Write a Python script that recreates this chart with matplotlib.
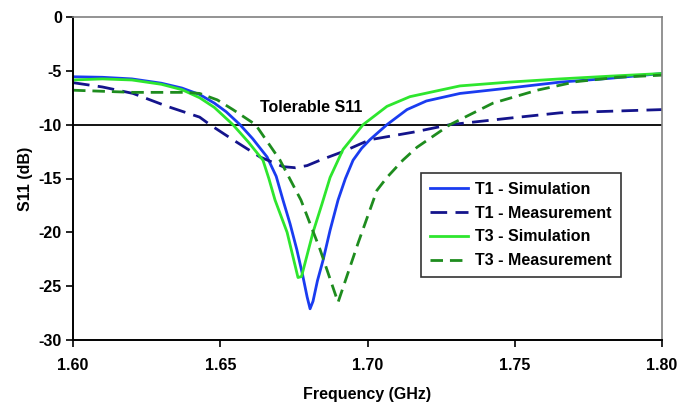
import matplotlib
matplotlib.use("Agg")
import matplotlib.pyplot as plt

plt.rcParams['font.family'] = ['Liberation Sans', 'DejaVu Sans']
plt.rcParams['font.weight'] = 'bold'
plt.rcParams['axes.unicode_minus'] = False

# T1 - Simulation
t1_sim_f = [1.600, 1.610, 1.620, 1.630, 1.637, 1.643, 1.648, 1.652, 1.6567, 1.661,
            1.6659, 1.669, 1.6713, 1.6737, 1.676, 1.678, 1.6795, 1.6805, 1.6815, 1.683,
            1.6849, 1.6873, 1.690, 1.6925, 1.6951, 1.698, 1.7008, 1.7066, 1.7134, 1.720,
            1.7314, 1.748, 1.7654, 1.782, 1.800]
t1_sim_db = [-5.55, -5.6, -5.75, -6.15, -6.6, -7.2, -8.0, -8.8, -10.0, -11.3,
             -13.0, -14.8, -17.0, -19.2, -21.6, -24.0, -26.0, -27.1, -26.4, -24.5,
             -22.6, -19.8, -17.0, -15.0, -13.3, -12.2, -11.4, -10.0, -8.6, -7.8,
             -7.1, -6.6, -6.05, -5.7, -5.25]

# T1 - Measurement
t1_meas_f = [1.600, 1.610, 1.6204, 1.632, 1.643, 1.6465, 1.6543, 1.6635, 1.6713, 1.6755,
             1.6795, 1.6839, 1.6917, 1.7008, 1.7155, 1.728, 1.748, 1.7654, 1.800]
t1_meas_db = [-6.1, -6.5, -7.1, -8.3, -9.3, -10.0, -11.4, -13.0, -13.9, -14.0,
              -13.8, -13.3, -12.5, -11.4, -10.7, -10.0, -9.4, -8.9, -8.6]

# T3 - Simulation
t3_sim_f = [1.600, 1.610, 1.620, 1.630, 1.637, 1.643, 1.648, 1.6543, 1.6595, 1.6645,
            1.6665, 1.6686, 1.6727, 1.6764, 1.6776, 1.6815, 1.6845, 1.6873, 1.6917, 1.6985,
            1.7066, 1.7144, 1.7314, 1.748, 1.7654, 1.782, 1.800]
t3_sim_db = [-5.85, -5.75, -5.85, -6.25, -6.75, -7.5, -8.4, -10.0, -11.6, -13.3,
             -15.0, -17.0, -20.0, -24.2, -24.1, -20.0, -17.4, -14.9, -12.3, -10.0,
             -8.3, -7.4, -6.4, -6.05, -5.75, -5.5, -5.25]

# T3 - Measurement
t3_meas_f = [1.600, 1.6204, 1.6387, 1.643, 1.649, 1.6543, 1.662, 1.6703, 1.6774, 1.6839,
             1.690, 1.6968, 1.7032, 1.7066, 1.712, 1.7168, 1.728, 1.7426, 1.7576, 1.771,
             1.785, 1.800]
t3_meas_db = [-6.8, -7.0, -7.0, -7.1, -7.7, -8.6, -10.0, -13.3, -17.0, -21.6,
              -26.5, -21.0, -16.1, -14.9, -13.3, -12.1, -10.0, -8.0, -6.8, -6.0,
              -5.6, -5.4]

tolerable = -10

fig = plt.figure(figsize=(6.78, 4.09), dpi=100)
ax = fig.add_axes([73 / 678, 69 / 409, 589 / 678, 323 / 409])

ax.axhline(tolerable, color='black', lw=1.3, zorder=1)
ax.plot(t1_sim_f, t1_sim_db, color='#1a3cf0', lw=2, label='T1 - Simulation')
ax.plot(t1_meas_f, t1_meas_db, color='#14148c', lw=2, dashes=(6, 3),
        label='T1 - Measurement')
ax.plot(t3_sim_f, t3_sim_db, color='#2ee62e', lw=2, label='T3 - Simulation')
ax.plot(t3_meas_f, t3_meas_db, color='#1e8c1e', lw=2, dashes=(4.5, 2.5),
        label='T3 - Measurement')

ax.text(1.6808, -8.45, 'Tolerable S11', ha='center', va='center',
        fontsize=11.5, fontweight='bold')

ax.set_xlim(1.60, 1.80)
ax.set_ylim(-30, 0)
ax.set_xticks([1.60, 1.65, 1.70, 1.75, 1.80])
ax.set_xticklabels(['1.60', '1.65', '1.70', '1.75', '1.80'])
ax.set_yticks(range(-30, 1, 5))
ax.tick_params(direction='out', length=5, width=1.2, labelsize=11.5)
ax.tick_params(axis='x', pad=8)
ax.tick_params(axis='y', pad=3)
for lab in ax.get_xticklabels() + ax.get_yticklabels():
    lab.set_fontweight('bold')

for s in ['top', 'right']:
    ax.spines[s].set_color('#808080')
    ax.spines[s].set_linewidth(1.2)
for s in ['left', 'bottom']:
    ax.spines[s].set_linewidth(1.4)

ax.set_xlabel('Frequency (GHz)', fontsize=11.5, fontweight='bold', labelpad=10)
ax.set_ylabel('S11 (dB)', fontsize=11.5, fontweight='bold', labelpad=4)

leg = ax.legend(loc='upper left', bbox_to_anchor=(0.591, 0.517), borderaxespad=0,
                fancybox=False, framealpha=1, edgecolor='#333333',
                prop={'size': 11.5, 'weight': 'bold'}, handlelength=2.4,
                labelspacing=0.55, borderpad=0.55, handletextpad=0.45)
leg.get_frame().set_linewidth(1.2)

fig.savefig('out.png', dpi=100)
